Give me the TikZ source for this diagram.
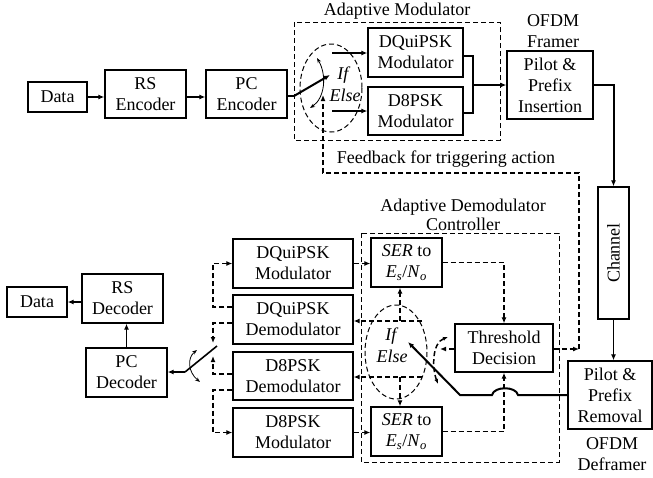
\documentclass[tikz,border=0pt]{standalone}
\usepackage{fontspec}
\usepackage{graphicx}
\setmainfont{Liberation Serif}
\usetikzlibrary{arrows.meta}
\begin{document}
\begin{tikzpicture}[x=1pt,y=-1pt,
  every node/.style={black,font=\fontsize{18}{21}\selectfont},
  blk/.style={draw,line width=1.3pt,align=center,inner sep=0pt},
  grp/.style={draw,line width=1pt,dash pattern=on 5pt off 3pt},
  dl/.style={line width=1.5pt,dash pattern=on 5pt off 3pt},
  arr/.style={-{Latex[length=6pt,width=5pt]}},
  tk/.style={line width=2pt}]
\useasboundingbox (0,0) rectangle (653,477);

\node[blk,minimum width=59,minimum height=30] (data1) at (57.5,97) {Data};
\node[blk,minimum width=81,minimum height=48] (rsenc) at (145.5,94) {RS\\Encoder};
\node[blk,minimum width=81,minimum height=48] (pcenc) at (246.5,94) {PC\\Encoder};
\draw[grp] (294,22) rectangle (500,140);
\node (admod) at (397,11) {Adaptive Modulator};
\node[blk,minimum width=95,minimum height=49] (dqmod) at (415.5,52.5) {DQuiPSK\\Modulator};
\node[blk,minimum width=95,minimum height=48] (d8mod) at (415.5,111) {D8PSK\\Modulator};
\draw[grp] (331,88) ellipse (31 and 44);
\node (if1) at (344,75) {\textit{If}};
\node (else1) at (345,95) {\textit{Else}};
\node[blk,minimum width=86,minimum height=68] (framer) at (550,85) {Pilot \&\\Prefix\\Insertion};
\node[align=center] (framerlbl) at (553,31) {OFDM\\Framer};
\node[blk,minimum width=31,minimum height=132] (chan) at (613.5,253) {\rotatebox{90}{Channel}};
\node[blk,minimum width=84,minimum height=68] (remov) at (610,395) {Pilot \&\\Prefix\\Removal};
\node[align=center] (deflbl) at (612,454) {OFDM\\Deframer};
\node (fbtxt) at (446,159) {Feedback for triggering action};

\node[blk,minimum width=60,minimum height=30] (data2) at (37,302) {Data};
\node[blk,minimum width=81,minimum height=49] (rsdec) at (122.5,298.5) {RS\\Decoder};
\node[blk,minimum width=81,minimum height=49] (pcdec) at (126.5,372.5) {PC\\Decoder};
\node[blk,minimum width=120,minimum height=49] (dqmod2) at (293,263.5) {DQuiPSK\\Modulator};
\node[blk,minimum width=120,minimum height=49] (dqdem) at (293,319.5) {DQuiPSK\\Demodulator};
\node[blk,minimum width=120,minimum height=48] (d8dem) at (293,376) {D8PSK\\Demodulator};
\node[blk,minimum width=120,minimum height=49] (d8mod2) at (293,432.5) {D8PSK\\Modulator};
\draw[grp] (361,233) rectangle (559,462);
\node[align=center] (addem) at (463,214.5) {Adaptive Demodulator\\[-2pt]Controller};
\node[blk,minimum width=71,minimum height=49] (serA) at (406.5,262.5) {\textit{SER} to\\\textit{E}\textsubscript{\textit{s}}/\textit{N}\textsubscript{\textit{o}}};
\node[blk,minimum width=71,minimum height=49] (serB) at (406.5,431.5) {\textit{SER} to\\\textit{E}\textsubscript{\textit{s}}/\textit{N}\textsubscript{\textit{o}}};
\node[blk,minimum width=98,minimum height=48] (thr) at (504,348) {Threshold\\Decision};
\draw[grp] (396,352) ellipse (31 and 47);
\node (if2) at (392,336) {\textit{If}};
\node (else2) at (392,356) {\textit{Else}};

\draw[arr,line width=1.3pt] (data1.east) -- (data1.east -| rsenc.west);
\draw[arr,line width=1.3pt] (rsenc.east |- data1.east) -- (pcenc.west |- data1.east);
\coordinate (sw1) at (294,96);
\coordinate (sw1tip) at (330,75);
\draw[tk] (pcenc.east |- sw1) -- (sw1);
\draw[tk,arr] (sw1) -- (sw1tip);
\draw[line width=0.8pt,{Stealth[length=5pt]}-{Stealth[length=5pt]}] (317,58) .. controls (327,75) and (325,98) .. (310,108);
\coordinate (swa) at (332,53);
\coordinate (swb) at (332,111);
\draw[arr,line width=1.3pt] (swa) -- (swa -| dqmod.west);
\draw[arr,line width=1.3pt] (swb) -- (swb -| d8mod.west);
\draw[tk] (dqmod.east |- 0,56) -- (473,56) -- (473,113) -- (d8mod.east |- 0,113);
\draw[arr,line width=1.3pt] (473,85) -- (framer.west);
\draw[tk,arr] (framer.east) -| (chan.north);
\draw[arr,line width=1.5pt] (chan.south) -- (chan.south |- remov.north);

\coordinate (fbc) at (579,349);
\coordinate (fbend) at (323,95);
\draw[dl,arr] (thr.east |- fbc) -- (fbc);
\draw[dl,arr] (fbc) -- (579,173) -| (fbend);

\draw[arr,line width=1.5pt] (pcdec.north) -- (pcdec.north |- rsdec.south);
\draw[arr,line width=1.5pt] (rsdec.west |- data2.east) -- (data2.east);
\coordinate (sw2) at (185,372);
\draw[arr,line width=1.5pt] (sw2) -- (sw2 -| pcdec.east);
\draw[line width=1.6pt] (sw2) -- (217,346);
\draw[line width=0.8pt,{Stealth[length=5pt]}-{Stealth[length=5pt]}] (197,350) .. controls (187,358) and (188,372) .. (200,382);
\draw[dl,arr] (dqdem.west |- 0,323) -- (213,323) -- (213,343);
\draw[dl,arr] (d8dem.west |- 0,374) -- (213,374) -- (213,356);
\draw[dl,arr] (dqdem.west |- 0,307) -- (213,307) |- (dqmod2.west);
\draw[dl,arr] (d8dem.west |- 0,390) -- (213,390) |- (d8mod2.west);
\draw[dl,arr] (dqmod2.east) -- (dqmod2.east -| serA.west);
\draw[dl,arr] (d8mod2.east) -- (d8mod2.east -| serB.west);
\draw[dl,arr] (serA.east) -| (thr.north);
\draw[dl,arr] (serB.east) -| (thr.south);
\coordinate (eA) at (422,321);
\coordinate (eB) at (422,377);
\coordinate (eAv) at (400,321);
\coordinate (eBv) at (400,377);
\draw[dl,arr] (eA) -- (eA -| dqdem.east);
\draw[dl,arr] (eB) -- (eB -| d8dem.east);
\draw[dl,arr] (eAv) -- (eAv |- serA.south);
\draw[dl,arr] (eBv) -- (eBv |- serB.north);
\draw[dl,arr] (thr.west |- 0,349) -- (440,349);
\draw[dl,{Latex[length=5pt,width=4pt]}-{Latex[length=5pt,width=4pt]}] (448,337) .. controls (432,343) and (432,368) .. (438,384);
\draw[tk,arr] (remov.west) -- (518,395) .. controls (516,386) and (494,386) .. (492,395) -- (460,395) -- (408,342);
\end{tikzpicture}
\end{document}
